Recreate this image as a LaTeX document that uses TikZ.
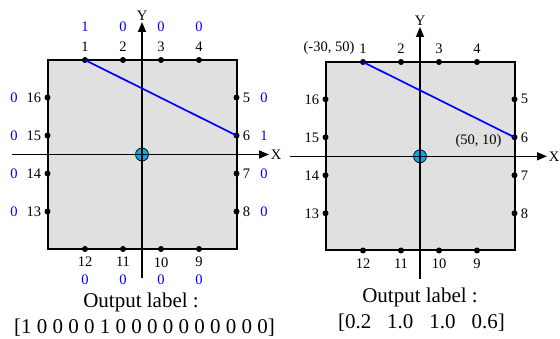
\documentclass[tikz,border=0pt]{standalone}
\usepackage{fontspec}
\setmainfont{Liberation Serif}
\usetikzlibrary{arrows.meta}

\begin{document}
\begin{tikzpicture}[
      x=1pt, y=-1pt,
      board/.style={draw, line width=2pt, fill=black!12},
      pt/.style   ={circle, fill=black, inner sep=0pt, minimum size=6pt},
      num/.style  ={font=\fontsize{14.5}{16}\selectfont, inner sep=3pt},
      val/.style  ={num, text=blue},
      ntop/.style ={label={[num,label distance=2pt]above:#1}},
      nbot/.style ={label={[num,label distance=2pt]below:#1}},
      nlft/.style ={label={[num,label distance=0pt]left:#1}},
      nrgt/.style ={label={[num,label distance=0pt]right:#1}},
      orig/.style ={circle, draw, line width=0.7pt, fill=cyan, inner sep=0pt, minimum size=13pt},
      axis/.style ={-{Triangle[length=10pt,width=8pt]}, line width=1.5pt},
      seg/.style  ={blue, line width=1.7pt},
      big/.style  ={font=\fontsize{21}{23}\selectfont, inner sep=0pt}
    ]
    \useasboundingbox (0,0) rectangle (560,339);

    % --- Panel izquierdo: etiqueta binaria ---
    \draw[board] (47.5,60) rectangle (236.5,249);
    \node[orig] (a0) at (142,154.5) {};

    \coordinate (axl) at (12,154.5);
    \coordinate (axr) at (269,154.5);
    \coordinate (ayb) at (142,278);
    \coordinate (ayt) at (142,22);
    \draw[axis] (axl) -- (axr) node[num, right, inner sep=1pt] (aX) {X};
    \draw[axis] (ayb) -- (ayt) node[num, above, inner sep=1pt] (aY) {Y};

    \node[pt, ntop=1]  (a1)  at (85,60) {};
    \node[pt, ntop=2]  (a2)  at (123,60) {};
    \node[pt, ntop=3]  (a3)  at (161,60) {};
    \node[pt, ntop=4]  (a4)  at (199,60) {};
    \node[pt, nrgt=5]  (a5)  at (236.5,97.5) {};
    \node[pt, nrgt=6]  (a6)  at (236.5,135.5) {};
    \node[pt, nrgt=7]  (a7)  at (236.5,173.5) {};
    \node[pt, nrgt=8]  (a8)  at (236.5,211.5) {};
    \node[pt, nbot=9]  (a9)  at (199,249) {};
    \node[pt, nbot=10] (a10) at (161,249) {};
    \node[pt, nbot=11] (a11) at (123,249) {};
    \node[pt, nbot=12] (a12) at (85,249) {};
    \node[pt, nlft=13] (a13) at (47.5,211.5) {};
    \node[pt, nlft=14] (a14) at (47.5,173.5) {};
    \node[pt, nlft=15] (a15) at (47.5,135.5) {};
    \node[pt, nlft=16] (a16) at (47.5,97.5) {};

    \draw[seg] (a1.center) -- (a6.center);

    % valores de salida (azul)
    \node[val] (v1)  at (85,27) {1};
    \node[val] (v2)  at (123,27) {0};
    \node[val] (v3)  at (161,27) {0};
    \node[val] (v4)  at (199,27) {0};
    \node[val] (v5)  at (264,97.5) {0};
    \node[val] (v6)  at (264,135.5) {1};
    \node[val] (v7)  at (264,173.5) {0};
    \node[val] (v8)  at (264,211.5) {0};
    \node[val] (v9)  at (199,280) {0};
    \node[val] (v10) at (161,280) {0};
    \node[val] (v11) at (123,280) {0};
    \node[val] (v12) at (85,280) {0};
    \node[val] (v13) at (14,211.5) {0};
    \node[val] (v14) at (14,173.5) {0};
    \node[val] (v15) at (14,135.5) {0};
    \node[val] (v16) at (14,97.5) {0};

    \node[big] (aout) at (141,302) {Output label :};
    \node[big] (avec) at (144.5,328) {[1 0 0 0 0 1 0 0 0 0 0 0 0 0 0 0]};

    % --- Panel derecho: etiqueta de regresion ---
    \draw[board] (325.5,62) rectangle (514.5,250.5);
    \node[orig] (b0) at (420,156.3) {};

    \coordinate (bxl) at (290,156.3);
    \coordinate (bxr) at (547,156.3);
    \coordinate (byb) at (420,279);
    \coordinate (byt) at (420,27);
    \draw[axis] (bxl) -- (bxr) node[num, right, inner sep=1pt] (bX) {X};
    \draw[axis] (byb) -- (byt) node[num, above, inner sep=1pt] (bY) {Y};

    \node[pt, ntop=1]  (b1)  at (363,62) {};
    \node[pt, ntop=2]  (b2)  at (401,62) {};
    \node[pt, ntop=3]  (b3)  at (439,62) {};
    \node[pt, ntop=4]  (b4)  at (477,62) {};
    \node[pt, nrgt=5]  (b5)  at (514.5,99.3) {};
    \node[pt, nrgt=6]  (b6)  at (514.5,137.3) {};
    \node[pt, nrgt=7]  (b7)  at (514.5,175.3) {};
    \node[pt, nrgt=8]  (b8)  at (514.5,213.3) {};
    \node[pt, nbot=9]  (b9)  at (477,250.5) {};
    \node[pt, nbot=10] (b10) at (439,250.5) {};
    \node[pt, nbot=11] (b11) at (401,250.5) {};
    \node[pt, nbot=12] (b12) at (363,250.5) {};
    \node[pt, nlft=13] (b13) at (325.5,213.3) {};
    \node[pt, nlft=14] (b14) at (325.5,175.3) {};
    \node[pt, nlft=15] (b15) at (325.5,137.3) {};
    \node[pt, nlft=16] (b16) at (325.5,99.3) {};

    \draw[seg] (b1.center) -- (b6.center);

    \node[num] (p1) at (329,48) {(-30, 50)};
    \node[num] (p6) at (478.5,141.5) {(50, 10)};

    \node[big] (bout) at (420,297) {Output label :};
    \node[big] (bvec) at (421.5,323) {[0.2\hspace{16pt}1.0\hspace{16pt}1.0\hspace{16pt}0.6]};

  \end{tikzpicture}
\end{document}
